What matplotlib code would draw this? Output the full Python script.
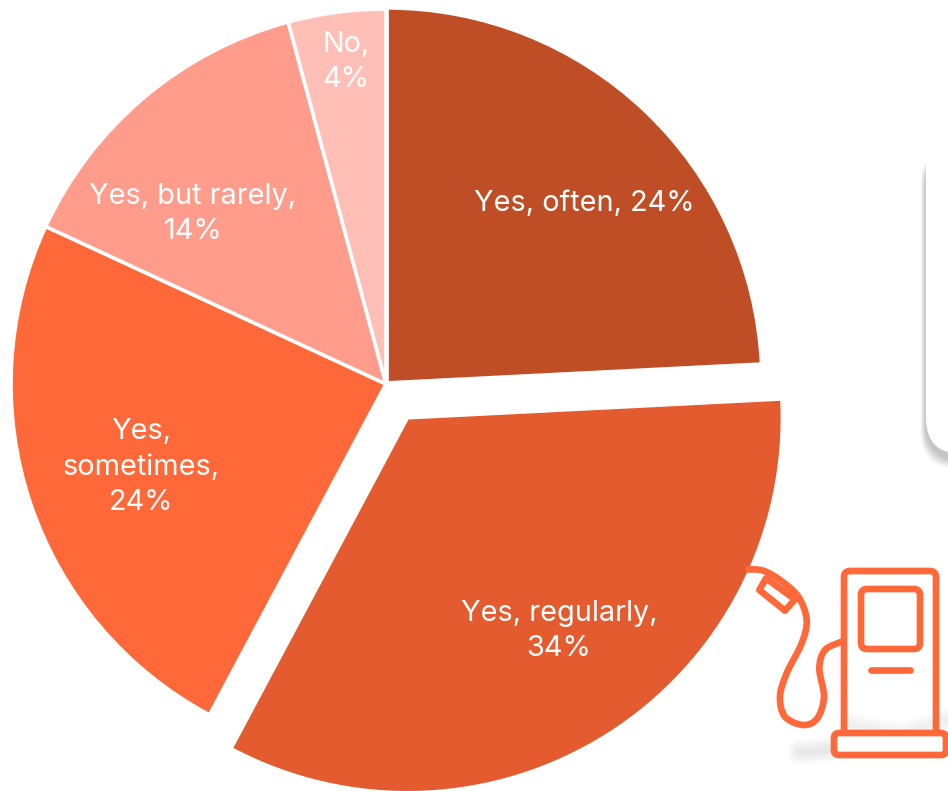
import numpy as np
import matplotlib
matplotlib.use('Agg')
import matplotlib.pyplot as plt
from matplotlib.patches import FancyBboxPatch, PathPatch, Polygon
from matplotlib.path import Path

# Dados
categorias = ['Yes, often,', 'Yes, regularly,', 'Yes,\nsometimes,', 'Yes, but rarely,', 'No,']
valores = [24.2, 33.6, 24.1, 13.9, 4.2]
cores = ['#BF4E26', '#E35B2F', '#FF6838', '#FF9C8C', '#FFBFB7']

# Layout (pixels da imagem)
W, H = 948, 791
CENTRO = (386, H - 384)
RAIO = 375
AFASTAMENTO = [1.5, 40, 0, 0, 0]  # explode do matplotlib fica em unidades de dados
POS_TEXTO = [(584, 204), (559, 631), (141, 467), (193, 214), (346, 62)]
COR_ICONE = '#FF6838'
LW_ICONE = 4.8


def y(v):
    return H - v


def zoom_xy(zx, zy):
    # coordenadas lidas no recorte 3x do icone
    return 730 + zx / 3, H - (540 + zy / 3)


def curva_suave(pontos):
    # Catmull-Rom -> Bezier para a mangueira
    p = [np.array(zoom_xy(*q)) for q in pontos]
    p = [p[0]] + p + [p[-1]]
    verts, codes = [p[1]], [Path.MOVETO]
    for i in range(1, len(p) - 2):
        verts += [p[i] + (p[i + 1] - p[i - 1]) / 6, p[i + 1] - (p[i + 2] - p[i]) / 6, p[i + 1]]
        codes += [Path.CURVE4] * 3
    return Path(verts, codes)


fig = plt.figure(figsize=(W / 100, H / 100), dpi=100)
ax = fig.add_axes([0, 0, 1, 1])

# Caixa branca com sombra, cortada pela borda direita
for i in range(10):
    d = 10 - i
    ax.add_patch(FancyBboxPatch((926 - d * 0.55, y(460) - d * 0.9), 80 + d, 312 + d,
                                boxstyle='round,pad=0,rounding_size=38',
                                fc='#000000', ec='none', alpha=0.024, zorder=1))
ax.add_patch(FancyBboxPatch((926, y(454)), 80, 327, boxstyle='round,pad=0,rounding_size=36',
                            fc='white', ec='none', zorder=2))

# Pizza
ax.pie(valores, colors=cores, explode=AFASTAMENTO, startangle=90, counterclock=False,
       radius=RAIO, center=CENTRO, frame=True,
       wedgeprops={'edgecolor': 'white', 'linewidth': 2.6, 'zorder': 3})

for nome, valor, (px, py) in zip(categorias, valores, POS_TEXTO):
    sep = ' ' if nome == categorias[0] else '\n'
    ax.text(px, y(py), f'{nome}{sep}{valor:.0f}%',
            color='white', fontsize=20.8, family='Inter', weight='normal',
            ha='center', va='center', ma='center', linespacing=1.4, zorder=5)

# Sombra difusa sob a bomba
for i in range(8):
    lw = 3 + i * 2.2
    ax.plot([800, 832], [y(752), y(750)], color='#808080', alpha=0.022, lw=lw,
            solid_capstyle='round', zorder=1)
    ax.plot([850, 900, 948], [y(725), y(735), y(720)], color='#808080', alpha=0.014, lw=lw,
            solid_capstyle='round', zorder=1)

# Icone da bomba
estilo = dict(fc='none', ec=COR_ICONE, lw=LW_ICONE, zorder=6, capstyle='round', joinstyle='round')
ax.add_patch(FancyBboxPatch((844, y(735)), 92, 164, boxstyle='round,pad=0,rounding_size=6', **estilo))
ax.add_patch(FancyBboxPatch((861, y(649)), 59, 60, boxstyle='round,pad=0,rounding_size=6', **estilo))
ax.add_patch(FancyBboxPatch((834, y(755)), 112, 22, boxstyle='round,pad=0,rounding_size=5',
                            fc='white', ec=COR_ICONE, lw=LW_ICONE, zorder=7))
ax.plot([871, 910], [y(670), y(670)], color=COR_ICONE, lw=LW_ICONE, solid_capstyle='round', zorder=6)

mangueira = [(335, 305), (285, 330), (268, 385), (282, 470), (262, 535), (220, 555), (165, 530),
             (150, 470), (170, 400), (215, 310), (230, 240), (205, 170), (150, 120), (100, 92), (55, 88)]
ax.add_patch(PathPatch(curva_suave(mangueira), **estilo))
bico = [zoom_xy(*q) for q in [(108, 115), (195, 178), (165, 212), (88, 150)]]
ax.add_patch(Polygon(bico, closed=True, **estilo))

ax.set_xlim(0, W)
ax.set_ylim(0, H)
ax.set_aspect('equal')
ax.axis('off')

fig.savefig('out.png', dpi=100, facecolor='white')
